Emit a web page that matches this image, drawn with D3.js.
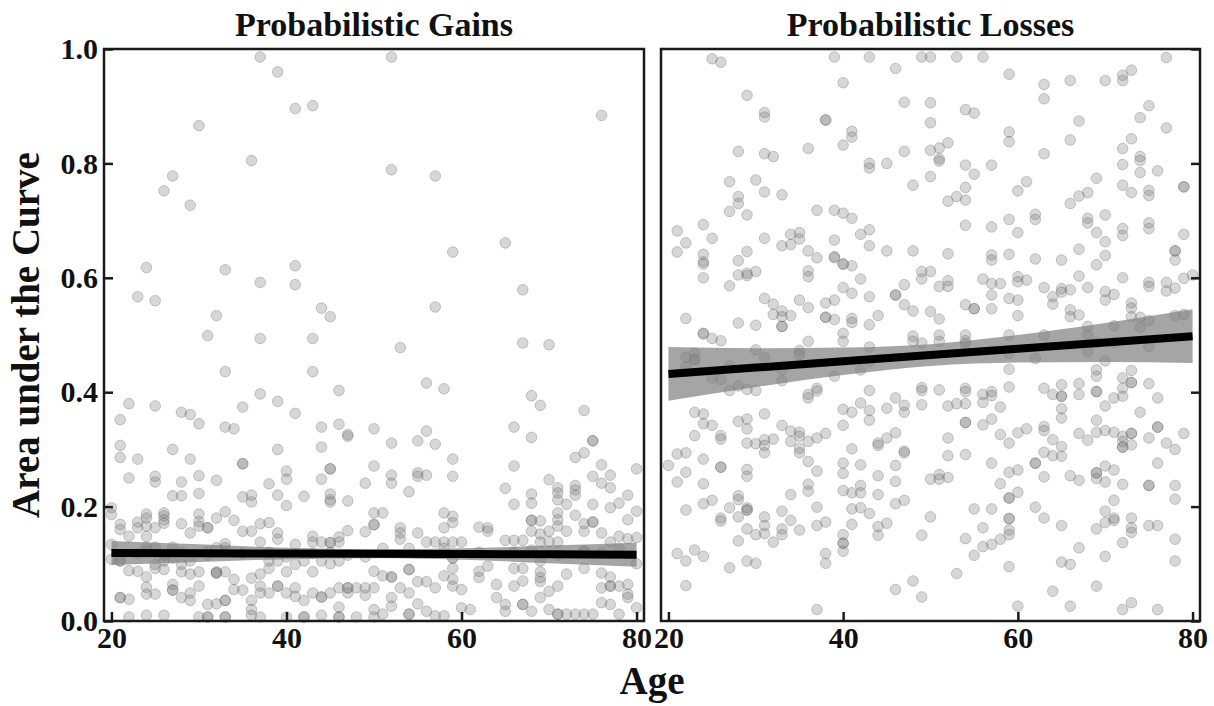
<!DOCTYPE html>
<html>
<head>
<meta charset="utf-8">
<script src="https://cdn.jsdelivr.net/npm/d3@7"></script>
<style>
  html, body { margin: 0; padding: 0; background: #fff; }
  svg { display: block; }
  text { font-family: "Liberation Serif", "Times New Roman", serif; font-weight: bold; fill: #111; }
</style>
</head>
<body>
<svg id="chart" width="1214" height="706"></svg>
<script>
// ---------------- data ----------------
const panelTitles = ["Probabilistic Gains", "Probabilistic Losses"];
const xTickValues = [20, 40, 60, 80];
const yTickValues = [0.0, 0.2, 0.4, 0.6, 0.8, 1.0];
const xAxisTitle = "Age";
const yAxisTitle = "Area under the Curve";

// [age, AUC] pairs, Probabilistic Gains
const gainsPoints = [
  [37,.986],[39,.960],[41,.896],[43,.901],[30,.866],[36,.805],[27,.778],[26,.752],[29,.727],[24,.618],[23,.567],[25,.560],[33,.614],[37,.592],[41,.621],[41,.588],[32,.534],[44,.547],[45,.532],[31,.499],[37,.494],[43,.494],
  [52,.986],[76,.884],[52,.789],[57,.778],[65,.661],[59,.645],[67,.579],[57,.549],
  [33,.436],[43,.436],[46,.403],[37,.397],[39,.384],[41,.363],[22,.380],[25,.376],[21,.352],[28,.365],[29,.361],[30,.345],[35,.374],[33,.339],[34,.336],[44,.339],[46,.344],[47,.326],[47,.323],[50,.336],
  [21,.307],[21,.286],[23,.283],[27,.300],[29,.283],[35,.275],[35,.275],[39,.300],[44,.304],[45,.266],[45,.266],[50,.271],
  [22,.250],[25,.253],[25,.243],[28,.243],[30,.254],[32,.246],[38,.240],[40,.262],[40,.248],[44,.248],[49,.241],
  [27,.219],[28,.219],[30,.223],[35,.217],[36,.220],[36,.208],[39,.220],[40,.202],[42,.218],[45,.222],[45,.212],[45,.208],[47,.210],
  [20,.198],[20,.186],
  [21,.169],[21,.160],[22,.148],[23,.173],[23,.163],[24,.187],[24,.180],[24,.166],[24,.148],[25,.163],[26,.189],[26,.184],[26,.177],[26,.171],[28,.170],[29,.154],[30,.187],[30,.174],[30,.166],[31,.163],[31,.163],[32,.180],[33,.191],[34,.176],
  [35,.157],[36,.157],[37,.170],[38,.172],[39,.154],[39,.143],
  [37,.138],[41,.134],[43,.148],[43,.138],[44,.138],[45,.137],[45,.137],[46,.147],[46,.138],[47,.158],[49,.156],[50,.168],[50,.189],
  [20,.134],[20,.108],
  [24,.129],[25,.129],[27,.129],[24,.122],[25,.099],[27,.110],[26,.105],[28,.099],[29,.105],[31,.122],[32,.128],[33,.135],[33,.128],
  [21,.105],[21,.105],[23,.118],[26,.115],[28,.120],[31,.115],[35,.118],[38,.120],[40,.112],[43,.118],[45,.120],[47,.115],[49,.112],
  [22,.088],[23,.087],[24,.077],[25,.092],[26,.090],[28,.086],[29,.082],[30,.086],[32,.086],[32,.084],[32,.084],[33,.086],[34,.073],[36,.075],[37,.082],[38,.105],[38,.092],[39,.105],[40,.086],[41,.099],[42,.105],[43,.086],[44,.105],[45,.100],[46,.105],
  [21,.041],[21,.041],[22,.038],[24,.059],[24,.047],[25,.047],[27,.064],[27,.054],[27,.054],[28,.041],[29,.049],[29,.036],[30,.061],[31,.029],[32,.030],[33,.036],[33,.036],[34,.055],[35,.054],[36,.036],[36,.020],[37,.061],[37,.049],[38,.049],[39,.061],[39,.061],[40,.049],[41,.058],[41,.043],[42,.036],[43,.049],[44,.042],[44,.042],[45,.049],[46,.058],[46,.024],[47,.058],[47,.058],[47,.049],[48,.058],[49,.058],[49,.045],[50,.058],
  [22,.007],[24,.010],[26,.010],[30,.007],[31,.007],[31,.007],[33,.007],[33,.007],[36,.010],[37,.007],[40,.007],[42,.007],[42,.007],[44,.010],[46,.007],[46,.007],[48,.007],[50,.007],
  [53,.478],[67,.486],[70,.483],[56,.416],[58,.406],[68,.394],[69,.377],[74,.368],
  [52,.311],[55,.315],[56,.332],[57,.309],[66,.339],[68,.321],[75,.315],[75,.315],[74,.294],[73,.286],
  [59,.283],[59,.253],[52,.255],[52,.241],[55,.259],[55,.253],[56,.255],[54,.226],[66,.271],[66,.204],[65,.232],
  [76,.273],[75,.253],[76,.241],[77,.255],[77,.233],[80,.266],
  [70,.247],[71,.233],[71,.224],[71,.212],[73,.237],[73,.229],[73,.220],[72,.204],[68,.222],[68,.206],
  [75,.204],[77,.198],[78,.206],[79,.220],[80,.192],[79,.177],
  [51,.189],[50,.169],[53,.163],[53,.154],[53,.143],[55,.154],[58,.189],[58,.163],[59,.183],[59,.172],[60,.138],
  [56,.138],[57,.138],[58,.138],[59,.138],[62,.164],[63,.163],[63,.157],[65,.141],[66,.141],[67,.141],
  [68,.176],[68,.176],[68,.157],[69,.175],[69,.152],[69,.138],[70,.157],[70,.139],[71,.189],[71,.177],[71,.166],[71,.138],[72,.157],
  [73,.185],[74,.170],[74,.157],[75,.173],[75,.173],[76,.154],[77,.138],[78,.148],[79,.144],[80,.146],
  [51,.127],[54,.127],[58,.127],[59,.110],[59,.110],[62,.120],[66,.120],[68,.124],[69,.105],[71,.115],[74,.122],[74,.122],[76,.120],[78,.127],
  [50,.087],[51,.079],[52,.077],[52,.077],[54,.090],[54,.090],[53,.058],[54,.049],[55,.069],[56,.069],[57,.058],[58,.079],[59,.092],[59,.073],[59,.061],[60,.055],[62,.087],[62,.076],[63,.096],[64,.064],[66,.092],[66,.061],[67,.092],[67,.070],[69,.086],[69,.076],[69,.069],[70,.052],[71,.061],[72,.082],[74,.092],[76,.084],[77,.077],[76,.058],[77,.061],[77,.061],[78,.061],[79,.064],[79,.047],[80,.100],
  [50,.020],[51,.012],[52,.041],[52,.026],[54,.012],[54,.012],[55,.030],[56,.017],[57,.009],[58,.009],[60,.023],[61,.020],[64,.041],[65,.029],[65,.017],[67,.029],[67,.029],[68,.017],[69,.041],[70,.020],[71,.012],[71,.012],[72,.012],[73,.012],[74,.012],[75,.012],[76,.032],[77,.029],[78,.012],[79,.041],[80,.023]
];

// [age, AUC] pairs, Probabilistic Losses
const lossesPoints = [
  [25,.983],[26,.977],[39,.986],[43,.986],[46,.966],[49,.986],[40,.941],[29,.919],[31,.889],[31,.881],[38,.876],[38,.876],[41,.856],[41,.846],[40,.832],[36,.826],[28,.821],[31,.817],[32,.812],[47,.907],
  [47,.821],[43,.800],[43,.792],[45,.800],[48,.762],[27,.768],[30,.771],[31,.750],[33,.745],[28,.742],[28,.730],[27,.716],[29,.710],[37,.718],[39,.718],[40,.713],[41,.704],[24,.693],[21,.682],[22,.661],[21,.645],[25,.669],[31,.669],[34,.676],[35,.679],[35,.668],[34,.658],[33,.656],[39,.666],[42,.676],[43,.684],[43,.656],[45,.647],[48,.647],
  [24,.641],[24,.628],[24,.624],[24,.600],[29,.646],[28,.630],[28,.605],[29,.608],[29,.604],[30,.611],[27,.586],[36,.647],[37,.635],[39,.637],[39,.635],[40,.624],[41,.621],[40,.624],[36,.612],[36,.602],[42,.598],[40,.583],[41,.573],[43,.567],[46,.570],[46,.570],[47,.588],[49,.611],[49,.598],
  [31,.564],[32,.554],[33,.542],[33,.532],[33,.515],[33,.515],[32,.536],[34,.534],[35,.561],[36,.548],[38,.556],[39,.561],[38,.531],[38,.531],[39,.527],[41,.529],[41,.522],[43,.518],[44,.534],[47,.553],[48,.542],[22,.529],[28,.521],[30,.517],
  [50,.986],[53,.986],[56,.986],[59,.956],[63,.938],[63,.913],[66,.945],[70,.945],[72,.954],[72,.945],[73,.963],[77,.985],[50,.906],[50,.871],[54,.894],[55,.888],[59,.855],[59,.838],[63,.817],[66,.841],[67,.874],[75,.901],[74,.880],[77,.862],[73,.843],[72,.826],[74,.812],[74,.805],[74,.784],[76,.787],[72,.798],[72,.762],[73,.749],[75,.753],[75,.744],[79,.759],[79,.759],
  [50,.823],[51,.827],[51,.808],[51,.804],[52,.836],[50,.777],[54,.797],[55,.781],[57,.797],[54,.758],[53,.742],[52,.734],[54,.736],[60,.752],[61,.768],[66,.730],[67,.743],[68,.749],[69,.774],
  [54,.692],[57,.689],[59,.702],[60,.679],[62,.711],[62,.702],[68,.704],[68,.696],[70,.710],[69,.679],[70,.663],[72,.686],[72,.674],[75,.696],[75,.686],[79,.676],
  [52,.642],[57,.640],[57,.631],[59,.641],[62,.633],[65,.631],[67,.650],[70,.639],[69,.623],[78,.647],[78,.647],[78,.631],
  [50,.611],[51,.585],[52,.595],[52,.585],[56,.598],[57,.590],[58,.590],[60,.602],[60,.593],[61,.596],[57,.570],[59,.564],[60,.561],[54,.553],[55,.546],[55,.546],[57,.546],[60,.534],[51,.528],[50,.541],[63,.583],[64,.567],[64,.554],[65,.581],[65,.575],[66,.579],[67,.603],[68,.583],[70,.576],[71,.571],[70,.561],[72,.600],[75,.592],[75,.585],[77,.592],[77,.577],[78,.582],[79,.599],[80,.605],[66,.544],[66,.532],[67,.535],[73,.556],[73,.547],[73,.532],[74,.531],[75,.525],[78,.534],[79,.536],[68,.515],[71,.516],[74,.513],
  [24,.502],[24,.503],[25,.494],[26,.490],[36,.489],[40,.503],[40,.489],[43,.479],[48,.498],[48,.489],[49,.486],
  [22,.461],[23,.468],[23,.457],[23,.457],[22,.444],[30,.474],[31,.461],[35,.473],[35,.466],[27,.446],[25,.425],[26,.422],[33,.439],[33,.420],[28,.411],[27,.403],[29,.405],[30,.403],[39,.428],[42,.439],[43,.454],[36,.396],[36,.390],[37,.407],[37,.402],[43,.403],[49,.408],[49,.403],[49,.378],[46,.390],[47,.377],[47,.365],[45,.372],[43,.368],[43,.351],[42,.381],[40,.370],[41,.365],[40,.342],
  [23,.365],[24,.362],[24,.345],[25,.342],[23,.324],[26,.324],[26,.318],[28,.349],[29,.353],[29,.336],[31,.362],[33,.342],[34,.332],[35,.330],[35,.323],[36,.314],[37,.320],[38,.328],[34,.314],[29,.311],[30,.310],[31,.317],[31,.307],[31,.294],[32,.318],[35,.302],[35,.294],[36,.279],[37,.262],
  [21,.292],[22,.294],[20,.272],[22,.260],[21,.243],[24,.283],[26,.269],[26,.269],[24,.240],[29,.265],[29,.253],[40,.276],[40,.258],[41,.301],[42,.273],[44,.311],[44,.307],[45,.320],[46,.329],[47,.297],[47,.294],[46,.272],[46,.244],[44,.254],[50,.248],
  [24,.205],[25,.211],[22,.194],[28,.219],[28,.212],[29,.198],[29,.194],[29,.194],[27,.198],[26,.180],[26,.175],[28,.182],[31,.182],[31,.167],[31,.153],[29,.161],[30,.151],[32,.138],[33,.161],[33,.151],[34,.176],[35,.159],[33,.192],[34,.221],[36,.239],[36,.227],[37,.199],[37,.167],[38,.173],
  [40,.228],[41,.224],[42,.237],[42,.224],[42,.198],[41,.196],[43,.188],[44,.221],[46,.205],[47,.211],[41,.169],[44,.165],[44,.150],[45,.171],[40,.151],[40,.136],[40,.136],[40,.122],[28,.140],
  [21,.118],[22,.105],[23,.124],[24,.113],[27,.093],[29,.105],[30,.101],[38,.118],[38,.101],[22,.062],[37,.020],[46,.055],[48,.070],[49,.042],[49,.150],[50,.182],
  [51,.500],[51,.489],[54,.500],[54,.490],[54,.485],[59,.500],[63,.500],[68,.500],[69,.487],[68,.471],[71,.487],[75,.480],
  [59,.468],[59,.440],[62,.459],[70,.455],[69,.439],[69,.428],[69,.401],[69,.401],[72,.425],[72,.407],[73,.438],[73,.417],[73,.417],[75,.415],[76,.390],
  [51,.404],[54,.407],[54,.401],[54,.380],[56,.396],[56,.382],[57,.401],[57,.394],[58,.374],[53,.380],[52,.376],[59,.409],[63,.407],[64,.396],[65,.413],[65,.393],[65,.393],[65,.371],[65,.355],[67,.415],[67,.396],[70,.376],[71,.390],[72,.393],[74,.365],
  [54,.347],[54,.347],[56,.343],[57,.353],[52,.320],[58,.326],[59,.311],[60,.329],[61,.336],[63,.340],[63,.333],[64,.317],[65,.305],[63,.295],[64,.289],[65,.288],[67,.328],[68,.316],[69,.351],[69,.330],[70,.333],[71,.330],[72,.323],[72,.314],[72,.304],[72,.304],[73,.328],[73,.328],[73,.308],[75,.320],[76,.339],[76,.339],[77,.311],[78,.300],[79,.328],
  [52,.289],[54,.291],[57,.276],[62,.276],[62,.276],[51,.256],[51,.248],[52,.251],[59,.260],[60,.264],[58,.240],[59,.215],[59,.215],[60,.225],[63,.252],[66,.254],[67,.246],[69,.259],[69,.259],[69,.249],[70,.271],[70,.243],[71,.264],[72,.239],[75,.237],[75,.237],[76,.276],[78,.237],[78,.213],[71,.211],
  [55,.196],[57,.196],[62,.199],[63,.180],[59,.179],[59,.179],[59,.159],[59,.151],[58,.143],[57,.134],[56,.130],[56,.163],[55,.115],[54,.144],[65,.167],[69,.161],[70,.172],[70,.192],[71,.176],[71,.180],[72,.137],[73,.180],[73,.163],[73,.155],[75,.167],[76,.167],[78,.143],[78,.105],[67,.128],[70,.113],[65,.103],[66,.099],[59,.095],[53,.083],[64,.052],[69,.061],[60,.026],[66,.026],[72,.020],[73,.032],[76,.020]
];

// regression fit and 95% band
const fitAges   = [20, 30, 40, 50, 60, 70, 80];
const gainsFit  = [.119, .1185, .118, .1175, .117, .1165, .116];
const gainsLo   = [.098, .103, .108, .1095, .107, .101, .095];
const gainsHi   = [.140, .134, .128, .1255, .127, .132, .137];
const lossesFit = [.432, .443, .454, .465, .476, .487, .498];
const lossesLo  = [.385, .409, .430, .446, .452, .453, .451];
const lossesHi  = [.479, .477, .478, .484, .500, .521, .545];

// ---------------- drawing ----------------
const svg = d3.select("#chart");
const ageDomain = [19.15, 80.85];
const y = d3.scaleLinear().domain([0, 1]).range([621, 49]);

const panels = [
  { title: panelTitles[0], pts: gainsPoints, fit: gainsFit, lo: gainsLo, hi: gainsHi, x0: 104, x1: 644, yLabels: true },
  { title: panelTitles[1], pts: lossesPoints, fit: lossesFit, lo: lossesLo, hi: lossesHi, x0: 661, x1: 1200, yLabels: false }
];

panels.forEach(p => {
  const x = d3.scaleLinear().domain(ageDomain).range([p.x0, p.x1]);
  const g = svg.append("g");

  // points
  g.append("g").selectAll("circle")
    .data(p.pts)
    .join("circle")
    .attr("cx", d => x(d[0]))
    .attr("cy", d => y(d[1]))
    .attr("r", 5.3)
    .attr("fill", "#7a7a7a")
    .attr("fill-opacity", 0.3)
    .attr("stroke", "#5a5a5a")
    .attr("stroke-opacity", 0.3)
    .attr("stroke-width", 1);

  const fitData = fitAges.map((a, i) => ({ age: a, fit: p.fit[i], lo: p.lo[i], hi: p.hi[i] }));

  // confidence band
  g.append("path")
    .datum(fitData)
    .attr("d", d3.area().x(d => x(d.age)).y0(d => y(d.lo)).y1(d => y(d.hi)).curve(d3.curveMonotoneX))
    .attr("fill", "#7f7f7f")
    .attr("fill-opacity", 0.7);

  // fit line
  g.append("path")
    .datum(fitData)
    .attr("d", d3.line().x(d => x(d.age)).y(d => y(d.fit)))
    .attr("fill", "none")
    .attr("stroke", "#000")
    .attr("stroke-width", 8);

  // frame
  g.append("rect")
    .attr("x", p.x0).attr("y", y(1))
    .attr("width", p.x1 - p.x0).attr("height", y(0) - y(1))
    .attr("fill", "none").attr("stroke", "#1a1a1a").attr("stroke-width", 2.5);

  // x axis (ticks inward)
  const xa = g.append("g")
    .attr("transform", `translate(0,${y(0)})`)
    .call(d3.axisBottom(x).tickValues(xTickValues).tickFormat(d3.format("d")).tickSize(-9).tickPadding(6));
  xa.select(".domain").remove();
  xa.selectAll(".tick line").attr("stroke", "#1a1a1a").attr("stroke-width", 2.5);
  xa.selectAll(".tick text").attr("font-size", 30).attr("font-family", null).attr("fill", "#111");

  // y axis
  if (p.yLabels) {
    const ya = g.append("g")
      .attr("transform", `translate(${p.x0},0)`)
      .call(d3.axisLeft(y).tickValues(yTickValues).tickFormat(d3.format(".1f")).tickSize(-9).tickPadding(6));
    ya.select(".domain").remove();
    ya.selectAll(".tick line").attr("stroke", "#1a1a1a").attr("stroke-width", 2.5);
    ya.selectAll(".tick text").attr("font-size", 30).attr("font-family", null).attr("fill", "#111");
  } else {
    const ya = g.append("g")
      .attr("transform", `translate(${p.x1},0)`)
      .call(d3.axisRight(y).tickValues(yTickValues).tickFormat("").tickSize(-9));
    ya.select(".domain").remove();
    ya.selectAll(".tick line").attr("stroke", "#1a1a1a").attr("stroke-width", 2.5);
  }

  // title
  g.append("text")
    .attr("x", (p.x0 + p.x1) / 2)
    .attr("y", 36)
    .attr("text-anchor", "middle")
    .attr("font-size", 34)
    .text(p.title);
});

// axis titles
svg.append("text")
  .attr("x", 652).attr("y", 694)
  .attr("text-anchor", "middle")
  .attr("font-size", 39)
  .text(xAxisTitle);

svg.append("text")
  .attr("transform", "translate(39,335) rotate(-90)")
  .attr("text-anchor", "middle")
  .attr("font-size", 39)
  .text(yAxisTitle);
</script>
</body>
</html>
